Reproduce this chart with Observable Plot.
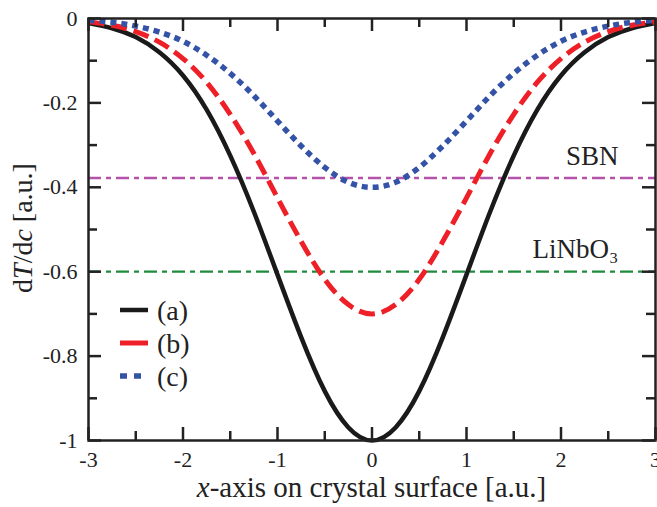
<!DOCTYPE html>
<html><head><meta charset="utf-8">
<script src="https://cdn.jsdelivr.net/npm/d3@7"></script>
<script src="https://cdn.jsdelivr.net/npm/@observablehq/plot@0.6"></script>
<style>
html,body{margin:0;padding:0;background:#fff;}
#chart{width:657px;height:507px;}
svg{font-family:"Liberation Serif","DejaVu Serif",serif;}
</style></head>
<body><div id="chart"></div>
<script>
const xs = [-3,-2.75,-2.5,-2.25,-2,-1.75,-1.5,-1.25,-1,-0.75,-0.5,-0.25,0,0.25,0.5,0.75,1,1.25,1.5,1.75,2,2.25,2.5,2.75,3];
const seriesA = [-0.011,-0.023,-0.044,-0.080,-0.135,-0.216,-0.325,-0.458,-0.607,-0.755,-0.883,-0.969,-1.000,-0.969,-0.883,-0.755,-0.607,-0.458,-0.325,-0.216,-0.135,-0.080,-0.044,-0.023,-0.011];
const seriesB = [-0.008,-0.016,-0.031,-0.056,-0.095,-0.151,-0.227,-0.320,-0.425,-0.528,-0.618,-0.678,-0.700,-0.678,-0.618,-0.528,-0.425,-0.320,-0.227,-0.151,-0.095,-0.056,-0.031,-0.016,-0.008];
const seriesC = [-0.004,-0.009,-0.018,-0.032,-0.054,-0.087,-0.130,-0.183,-0.243,-0.302,-0.353,-0.388,-0.400,-0.388,-0.353,-0.302,-0.243,-0.183,-0.130,-0.087,-0.054,-0.032,-0.018,-0.009,-0.004];
const seriesNames = ["(a)","(b)","(c)"];
const refNames = ["SBN","LiNbO\u2083"];
const refValues = [-0.378,-0.6];
const xMajor = [-3,-2,-1,0,1,2,3];
const xMinor = [-2.5,-1.5,-0.5,0.5,1.5,2.5];
const yMajor = [0,-0.2,-0.4,-0.6,-0.8,-1];
const yMinor = [-0.1,-0.3,-0.5,-0.7,-0.9];
const yTickLabels = ["0","-0.2","-0.4","-0.6","-0.8","-1"];
const xTickLabels = ["-3","-2","-1","0","1","2","3"];

const W = 657, H = 507;
const M = {top:18, right:2, bottom:67, left:88};
const iw = W - M.left - M.right, ih = H - M.top - M.bottom;
const ink = "#222";
const styles = [
  {stroke:"#1a1a1a", width:4.5, dash:null},
  {stroke:"#ee1f26", width:5, dash:"16,7"},
  {stroke:"#3453a6", width:5.5, dash:"6,5"}
];
const refColors = ["#b552a9","#1f8a3b"];

const rows = [];
[seriesA, seriesB, seriesC].forEach((vals, k) => vals.forEach((v,i) => rows.push({x:xs[i], y:v, s:seriesNames[k]})));

const lineMarks = seriesNames.map((n,k) => Plot.line(rows.filter(r => r.s === n), {
  x:"x", y:"y", curve:"natural", stroke: styles[k].stroke, strokeWidth: styles[k].width,
  strokeDasharray: styles[k].dash, strokeLinecap: "butt"
}));

const plot = Plot.plot({
  width: W, height: H,
  marginTop: M.top, marginRight: M.right, marginBottom: M.bottom, marginLeft: M.left,
  style: {fontFamily: '"Liberation Serif", serif', background: "#fff", color: ink},
  x: {domain: [-3, 3]},
  y: {domain: [-1, 0]},
  marks: [
    Plot.ruleY(refValues, {y: d => d, stroke: (d,i) => refColors[i], strokeWidth: 2.3, strokeDasharray: "13,5,5,5"}),
    Plot.text(refNames, {frameAnchor: "right", y: (d,i) => refValues[i], text: d => d, dx: -37, dy: -22, fontSize: 27, fill: ink, textAnchor: "end"}),
    ...lineMarks,
    // inward ticks
    Plot.tickX(xMajor, {x: d => d, insetTop: ih - 13, stroke: ink, strokeWidth: 2.5}),
    Plot.tickX(xMinor, {x: d => d, insetTop: ih - 9, stroke: ink, strokeWidth: 2.5}),
    Plot.tickX(xMajor, {x: d => d, insetBottom: ih - 13, stroke: ink, strokeWidth: 2.5}),
    Plot.tickX(xMinor, {x: d => d, insetBottom: ih - 9, stroke: ink, strokeWidth: 2.5}),
    Plot.tickY(yMajor, {y: d => d, insetRight: iw - 13, stroke: ink, strokeWidth: 2.5}),
    Plot.tickY(yMinor, {y: d => d, insetRight: iw - 9, stroke: ink, strokeWidth: 2.5}),
    Plot.tickY(yMajor, {y: d => d, insetLeft: iw - 13, stroke: ink, strokeWidth: 2.5}),
    Plot.tickY(yMinor, {y: d => d, insetLeft: iw - 9, stroke: ink, strokeWidth: 2.5}),
    Plot.axisX({ticks: xMajor, tickFormat: (d,i) => xTickLabels[i], tickSize: 0, tickPadding: 11, fontSize: 22, label: null, fill: ink}),
    Plot.axisY({ticks: yMajor, tickFormat: (d,i) => yTickLabels[i], tickSize: 0, tickPadding: 11, fontSize: 22, label: null, fill: ink}),
    Plot.frame({stroke: ink, strokeWidth: 2.5})
  ]
});
document.getElementById("chart").appendChild(plot);

const svg = d3.select(plot);
// legend
const lg = svg.append("g").attr("font-size", 28).attr("fill", ink).attr("text-anchor", "start");
seriesNames.forEach((n,k) => {
  const yy = 310 + k*33;
  lg.append("line").attr("x1",120).attr("x2",148).attr("y1",yy).attr("y2",yy)
    .attr("stroke", styles[k].stroke).attr("stroke-width", styles[k].width)
    .attr("stroke-dasharray", k===2 ? "7,7" : null);
  lg.append("text").attr("x",157).attr("y",yy+10).text(n);
});
// x title
const xt = svg.append("text").attr("x", M.left + iw/2).attr("y", 497).attr("text-anchor","middle")
  .attr("font-size", 29).attr("fill", ink);
xt.append("tspan").attr("font-style","italic").text("x");
xt.append("tspan").text("-axis on crystal surface [a.u.]");
// y title
const yt = svg.append("text").attr("transform","translate(32,228) rotate(-90)").attr("text-anchor","middle")
  .attr("font-size", 28).attr("fill", ink);
yt.append("tspan").text("d");
yt.append("tspan").attr("font-style","italic").text("T");
yt.append("tspan").text("/d");
yt.append("tspan").attr("font-style","italic").text("c");
yt.append("tspan").text(" [a.u.]");
</script></body></html>
